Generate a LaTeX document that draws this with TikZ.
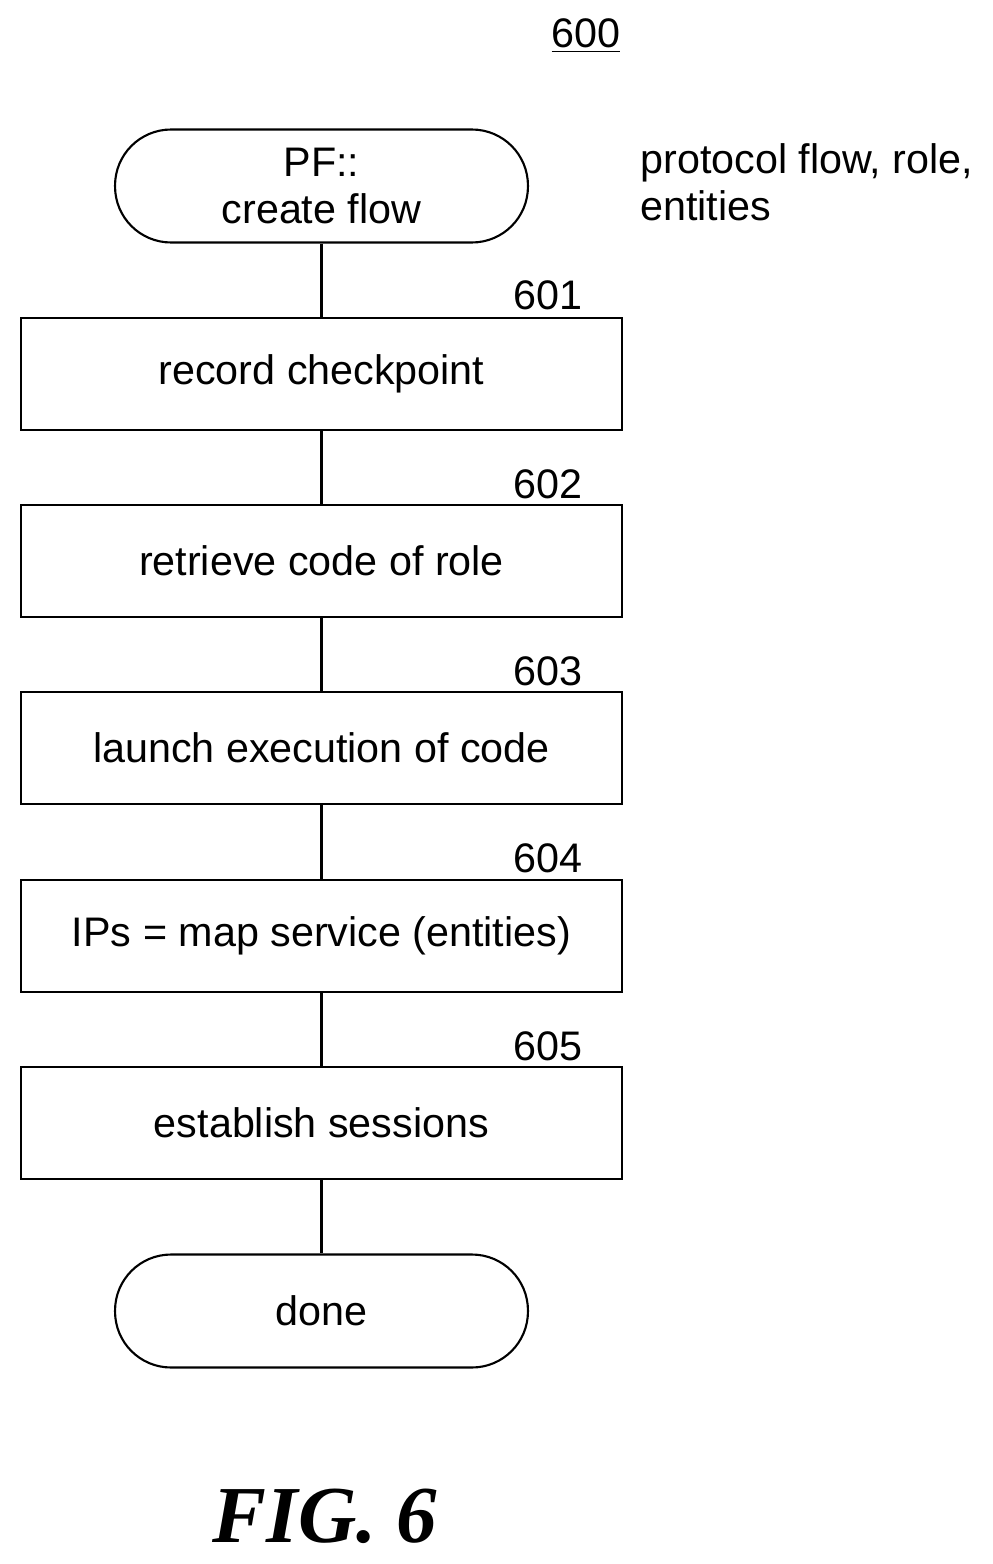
\documentclass[tikz,border=0pt]{standalone}
\usepackage{fontspec}
\setmainfont{Liberation Sans}
\newfontfamily\figfont{Liberation Serif}
\usetikzlibrary{positioning}

\begin{document}
\begin{tikzpicture}[x=0.02cm,y=-0.02cm,
  every node/.style={font=\fontsize{23.5}{27}\selectfont},
  pstep/.style={draw,line width=1.2pt,minimum width=12.02cm,minimum height=2.24cm,inner sep=0pt},
  term/.style={draw,line width=1.2pt,rounded corners=1.12cm,minimum width=8.26cm,minimum height=2.26cm,align=center,inner sep=0pt},
  tag/.style={anchor=base}]

% ---------- frame ----------
\useasboundingbox (0,0) rectangle (993,1564);

% ---------- title ----------
\node[tag] (title) at (586,48) {\underline{600}};

% ---------- terminals and steps ----------
\node[term] (start) at (321.5,186) {PF::\\create flow};
\node[pstep] (s601) at (321.5,374) {record checkpoint};
\node[pstep] (s602) at (321.5,561) {retrieve code of role};
\node[pstep] (s603) at (321.5,748) {launch execution of code};
\node[pstep] (s604) at (321.5,936) {IPs = map service (entities)};
\node[pstep] (s605) at (321.5,1123) {establish sessions};
\node[term] (done) at (321.5,1311) {done};

% ---------- reference numbers ----------
\foreach \n/\y in {601/310,602/498,603/685,604/872,605/1060}
  \node[tag] (n\n) at (548,\y) {\n};

% ---------- side note ----------
\node[anchor=north west,align=left,inner sep=0pt] (note) at (640,143)
  {protocol flow, role,\\entities};

% ---------- connectors ----------
\draw[line width=1.2pt] (start) -- (s601);
\draw[line width=1.2pt] (s601) -- (s602);
\draw[line width=1.2pt] (s602) -- (s603);
\draw[line width=1.2pt] (s603) -- (s604);
\draw[line width=1.2pt] (s604) -- (s605);
\draw[line width=1.2pt] (s605) -- (done);

% ---------- caption ----------
\node[anchor=base,font=\figfont\bfseries\itshape\fontsize{46}{50}\selectfont] (fig) at (325,1542) {FIG. 6};
\end{tikzpicture}
\end{document}
